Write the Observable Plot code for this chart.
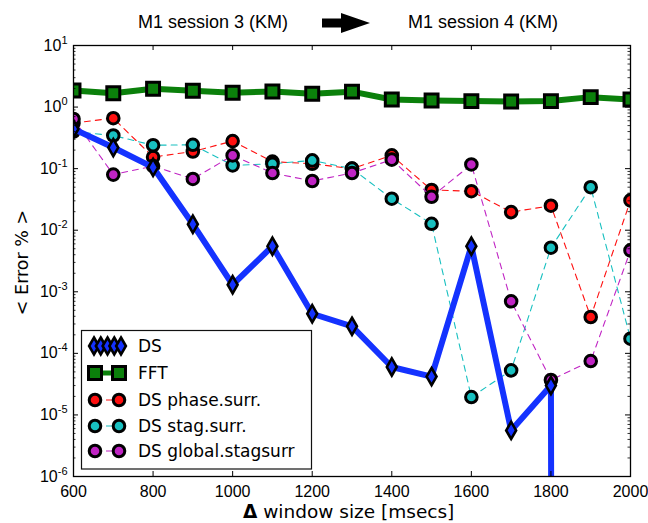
<!DOCTYPE html>
<html>
<head>
<meta charset="utf-8">
<script src="https://cdn.jsdelivr.net/npm/d3@7"></script>
<script src="https://cdn.jsdelivr.net/npm/@observablehq/plot@0.6"></script>
<style>
  body { margin: 0; background: #fff; }
  #wrap { position: relative; width: 648px; height: 523px; overflow: hidden; background: #fff; }
  #wrap > svg { position: absolute; left: 0; top: 0; }
  #overlay { pointer-events: none; }
</style>
</head>
<body>
<div id="wrap"></div>
<script>
// ---- data ----
const windowSizes = [600, 700, 800, 900, 1000, 1100, 1200, 1300, 1400, 1500, 1600, 1700, 1800, 1900, 2000];
const dsError     = [0.44, 0.22, 0.105, 0.0125, 0.0013, 0.0055, 4.4e-4, 2.75e-4, 6.0e-5, 4.2e-5, 0.0055, 5.6e-6, 3.0e-5, 0, 0];
const fftError    = [1.86, 1.68, 1.98, 1.84, 1.71, 1.79, 1.64, 1.78, 1.33, 1.28, 1.25, 1.23, 1.25, 1.45, 1.33];
const phaseError  = [0.55, 0.66, 0.154, 0.19, 0.28, 0.13, 0.12, 0.1, 0.164, 0.045, 0.043, 0.0197, 0.025, 3.9e-4, 0.0305];
const stagError   = [0.4, 0.345, 0.24, 0.244, 0.113, 0.12, 0.136, 0.1, 0.0325, 0.0127, 1.95e-5, 5.3e-5, 0.0052, 0.05, 1.73e-4];
const globalError = [0.64, 0.08, 0.11, 0.068, 0.164, 0.085, 0.063, 0.085, 0.14, 0.035, 0.117, 7.0e-4, 3.7e-5, 7.5e-5, 0.0047];

const seriesNames = ["DS", "FFT", "DS phase.surr.", "DS stag.surr.", "DS global.stagsurr"];
const xTickValues = [600, 800, 1000, 1200, 1400, 1600, 1800, 2000];
const yTickValues = [1e1, 1e0, 1e-1, 1e-2, 1e-3, 1e-4, 1e-5, 1e-6];
const yTickLabels = ["10^1", "10^0", "10^-1", "10^-2", "10^-3", "10^-4", "10^-5", "10^-6"];
const titleLeft = "M1 session 3 (KM)";
const titleRight = "M1 session 4 (KM)";
const xLabelSymbol = "Δ";
const xLabelText = " window size [msecs]";
const yLabelText = "< Error % >";

// ---- styles ----
const colors = {DS: "#1432ff", FFT: "#0b800b", phase: "#ff1010", stag: "#18c0c0", global: "#c024c4"};

const W = 648, H = 523, mL = 73, mR = 18, mT = 45, mB = 47;
const pw = W - mL - mR, ph = H - mT - mB;

const rows = vals => windowSizes.map((x, i) => ({x, v: vals[i]}));
// matplotlib clips non-positive values on a log axis to a tiny number
const yClip = d => (d.v > 0 ? d.v : 1e-300);

const allTicks = d3.scaleLog().domain([1e-6, 10]).ticks();
const minorY = allTicks.filter(t => !yTickValues.some(m => Math.abs(m - t) / t < 1e-9));

function dashedSeries(vals, color) {
  return [
    Plot.line(rows(vals), {x: "x", y: "v", stroke: color, strokeWidth: 1.1, strokeDasharray: "6,5", clip: true}),
    Plot.dot(rows(vals), {x: "x", y: "v", r: 5.8, fill: color, stroke: "black", strokeWidth: 3, clip: true})
  ];
}

const chart = Plot.plot({
  width: W, height: H,
  marginLeft: mL, marginRight: mR, marginTop: mT, marginBottom: mB,
  style: {fontFamily: "Liberation Sans", fontSize: "16px", color: "#000", background: "transparent"},
  x: {domain: [600, 2000]},
  y: {type: "log", domain: [1e-6, 10]},
  marks: [
    // surrogate series
    ...dashedSeries(phaseError, colors.phase),
    ...dashedSeries(stagError, colors.stag),
    ...dashedSeries(globalError, colors.global),
    // FFT
    Plot.line(rows(fftError), {x: "x", y: "v", stroke: colors.FFT, strokeWidth: 6, clip: true}),
    Plot.dot(rows(fftError), {x: "x", y: "v", symbol: "square", r: 7.3, fill: colors.FFT, stroke: "black", strokeWidth: 3, clip: true}),
    // DS
    Plot.line(rows(dsError), {x: "x", y: yClip, stroke: colors.DS, strokeWidth: 6, clip: true}),
    Plot.dot(rows(dsError).filter(d => d.v > 0), {x: "x", y: "v", symbol: "diamond", r: 5.2, fill: colors.DS, stroke: "black", strokeWidth: 2.6, clip: true}),
    // inward ticks
    Plot.tickY(yTickValues, {insetRight: pw - 5, stroke: "black", strokeWidth: 1}),
    Plot.tickY(yTickValues, {insetLeft: pw - 5, stroke: "black", strokeWidth: 1}),
    Plot.tickY(minorY, {insetRight: pw - 2.5, stroke: "black", strokeWidth: 0.8}),
    Plot.tickY(minorY, {insetLeft: pw - 2.5, stroke: "black", strokeWidth: 0.8}),
    Plot.tickX(xTickValues, {insetTop: ph - 5, stroke: "black", strokeWidth: 1}),
    Plot.tickX(xTickValues, {insetBottom: ph - 5, stroke: "black", strokeWidth: 1}),
    Plot.frame({stroke: "black", strokeWidth: 1.3}),
    // axes (labels only)
    Plot.axisX({ticks: xTickValues, tickSize: 0, tickPadding: 9, label: null, tickFormat: d => String(d)}),
    Plot.axisY({ticks: yTickValues, tickSize: 0, tickPadding: 6, label: null,
      tickFormat: d => yTickLabels[yTickValues.findIndex(m => Math.abs(m - d) / d < 1e-9)]})
  ]
});

// superscript exponents on y tick labels
chart.querySelectorAll('g[aria-label="y-axis tick label"] text').forEach(t => {
  const parts = t.textContent.split("^");
  if (parts.length !== 2) return;
  t.textContent = parts[0];
  const ts = document.createElementNS("http://www.w3.org/2000/svg", "tspan");
  ts.setAttribute("dy", "-7");
  ts.setAttribute("font-size", "11");
  ts.textContent = parts[1];
  t.appendChild(ts);
});

const wrap = document.getElementById("wrap");
wrap.appendChild(chart);

// ---- overlay: title, arrow, axis titles, legend ----
const NS = "http://www.w3.org/2000/svg";
const ov = document.createElementNS(NS, "svg");
ov.setAttribute("id", "overlay");
ov.setAttribute("width", W);
ov.setAttribute("height", H);

function el(name, attrs, text) {
  const e = document.createElementNS(NS, name);
  for (const k in attrs) e.setAttribute(k, attrs[k]);
  if (text != null) e.textContent = text;
  ov.appendChild(e);
  return e;
}

el("text", {x: 138, y: 28, "font-family": "Liberation Sans", "font-size": 18, fill: "#000"}, titleLeft);
el("text", {x: 408, y: 28, "font-family": "Liberation Sans", "font-size": 18, fill: "#000"}, titleRight);
el("polygon", {points: "322,18.5 341,18.5 341,13 370,23 341,33 341,27.5 322,27.5", fill: "#000"});

el("text", {transform: "translate(27.5,262.5) rotate(-90)", "text-anchor": "middle",
  "font-family": "DejaVu Sans", "font-size": 17.5, fill: "#000"}, yLabelText);

const xl = el("text", {x: 243, y: 518, "font-family": "DejaVu Sans", "font-size": 18.5, fill: "#000"});
const xl1 = document.createElementNS(NS, "tspan");
xl1.setAttribute("font-weight", "bold");
xl1.textContent = xLabelSymbol;
const xl2 = document.createElementNS(NS, "tspan");
xl2.textContent = xLabelText;
xl.appendChild(xl1); xl.appendChild(xl2);

// legend
el("rect", {x: 81.5, y: 330.5, width: 230, height: 138.5, fill: "#fff", stroke: "#111", "stroke-width": 1.2});
const legendRows = [
  {name: seriesNames[0], cy: 346, base: 352, kind: "ds", color: colors.DS},
  {name: seriesNames[1], cy: 373, base: 379, kind: "fft", color: colors.FFT},
  {name: seriesNames[2], cy: 400, base: 406, kind: "dot", color: colors.phase},
  {name: seriesNames[3], cy: 426, base: 432, kind: "dot", color: colors.stag},
  {name: seriesNames[4], cy: 451, base: 457, kind: "dot", color: colors.global}
];
const diamond = (cx, cy) => `M${cx},${cy - 8.5}L${cx + 4.9},${cy}L${cx},${cy + 8.5}L${cx - 4.9},${cy}Z`;
for (const r of legendRows) {
  if (r.kind === "ds") {
    for (const cx of [94, 100.75, 107.5, 114.25, 121]) {
      el("path", {d: diamond(cx, r.cy), fill: r.color, stroke: "#000", "stroke-width": 2.6, "stroke-linejoin": "miter"});
    }
  } else if (r.kind === "fft") {
    el("line", {x1: 95, x2: 119, y1: r.cy, y2: r.cy, stroke: r.color, "stroke-width": 5});
    for (const cx of [95, 119]) el("rect", {x: cx - 6.5, y: r.cy - 6.5, width: 13, height: 13, fill: r.color, stroke: "#000", "stroke-width": 3});
  } else {
    el("line", {x1: 95, x2: 119, y1: r.cy, y2: r.cy, stroke: r.color, "stroke-width": 1.1, "stroke-dasharray": "6,5"});
    for (const cx of [95, 119]) el("circle", {cx, cy: r.cy, r: 5.8, fill: r.color, stroke: "#000", "stroke-width": 3});
  }
  el("text", {x: 138, y: r.base, "font-family": "DejaVu Sans", "font-size": 17, fill: "#000"}, r.name);
}
wrap.appendChild(ov);
</script>
</body>
</html>
